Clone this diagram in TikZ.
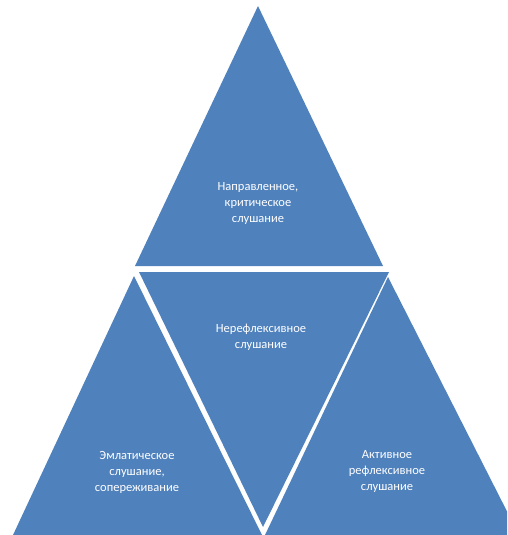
\documentclass[tikz,border=0pt]{standalone}
\usepackage{fontspec}
\setmainfont{Carlito}
\definecolor{pyrblue}{HTML}{4F81BD}

\begin{document}
\begin{tikzpicture}[x=1pt, y=-1pt,
    part/.style={fill=pyrblue, draw=none},
    lbl/.style={text=white, align=center, inner sep=0pt,
        font=\fontsize{12.5}{16}\selectfont}]
    \useasboundingbox (0, 0) rectangle (507, 535);
    \clip (0, 0) rectangle (507, 535);
    % four parts of the pyramid
    \fill[part] (258, 6) -- (135, 266) -- (383, 266) -- cycle;
    \fill[part] (139, 272) -- (389, 272) -- (263, 527) -- cycle;
    \fill[part] (134, 276) -- (13, 535) -- (262, 535) -- cycle;
    \fill[part] (388, 277) -- (265, 535) -- (519, 535) -- cycle;
    % labels
    \node[lbl] (top) at (258, 203)
        {Направленное,\\критическое\\слушание};
    \node[lbl] (mid) at (261, 337) {Нерефлексивное\\слушание};
    \node[lbl] (left) at (137, 472)
        {Эмлатическое\\слушание,\\сопереживание};
    \node[lbl] (right) at (387, 471)
        {Активное\\рефлексивное\\слушание};
\end{tikzpicture}
\end{document}
